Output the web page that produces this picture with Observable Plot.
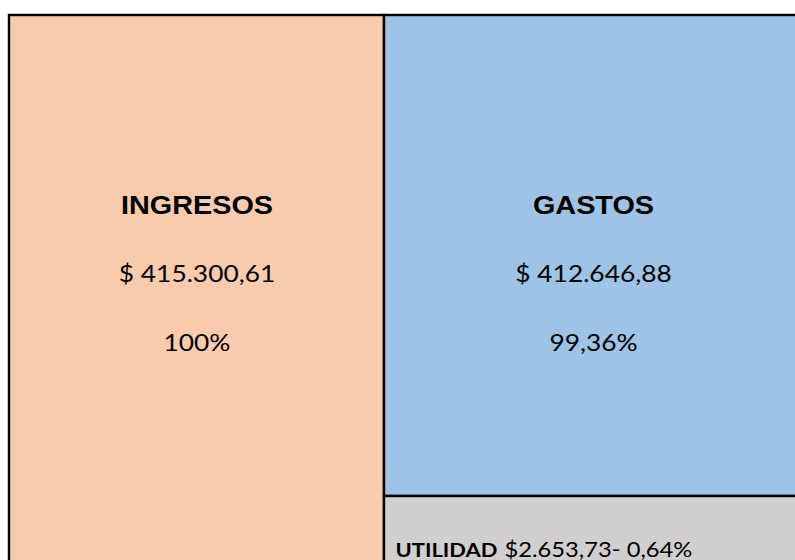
<!DOCTYPE html>
<html>
<head>
<meta charset="utf-8">
<script src="https://cdn.jsdelivr.net/npm/d3@7"></script>
<script src="https://cdn.jsdelivr.net/npm/@observablehq/plot@0.6"></script>
<style>
  html, body { margin: 0; padding: 0; background: #fff; overflow: hidden; }
  #chart svg { display: block; overflow: hidden; }
</style>
</head>
<body>
<div id="chart"></div>
<script>
// ---- data ----
const labels   = ["INGRESOS", "GASTOS", "UTILIDAD"];
const amounts  = ["$ 415.300,61", "$ 412.646,88", "$2.653,73"];
const percentLabels = ["100%", "99,36%", "0,64%"];
const percents = [100, 99.36, 0.64];
const columns  = [0, 1, 1];          // which column each block sits in
const colors   = ["#F8CBAD", "#9DC3E6", "#D0CECE"];

// blocks stacked from the top: gastos then utilidad in the right column
const blocks = labels.map((label, i) => {
  const y1 = i === 2 ? percents[1] : 0;
  return {label, amount: amounts[i], pct: percentLabels[i], col: columns[i],
          y1, y2: y1 + percents[i], fill: colors[i]};
});
const main = blocks.slice(0, 2).map(d => ({...d, ty: percents[1] / 2}));
const util = blocks[2];

const stretch = 1.13;

const chart = Plot.plot({
  width: 795,
  height: 560,
  margin: 0,
  style: {background: "white"},
  x: {type: "linear", domain: [0, 1, 2], range: [9, 384, 802], axis: null},
  y: {type: "linear", domain: [0, percents[1], 100], range: [15, 496, 640], axis: null},
  marks: [
    Plot.rect(blocks, {x1: "col", x2: d => d.col + 1, y1: "y1", y2: "y2",
      fill: "fill", stroke: "black", strokeWidth: 2.4}),
    Plot.text(main, {x: d => d.col + 0.5, y: "ty", text: "label", lineAnchor: "bottom",
      dy: -42.5, fontSize: 25.5, fontWeight: "bold", fontFamily: "Liberation Sans, Arial, sans-serif",
      fill: "black"}),
    Plot.text(main, {x: d => d.col + 0.5, y: "ty", text: "amount", lineAnchor: "bottom",
      dy: 26, fontSize: 23.3, fontFamily: "Lato, sans-serif", fill: "black"}),
    Plot.text(main, {x: d => d.col + 0.5, y: "ty", text: "pct", lineAnchor: "bottom",
      dy: 94.5, fontSize: 23.3, fontFamily: "Lato, sans-serif", fill: "black"}),
    Plot.text([util], {x: "col", y: "y1", text: "label", lineAnchor: "bottom", textAnchor: "start",
      dx: 11, dy: 60.7, fontSize: 19.4, fontWeight: "bold", fontFamily: "Lato, sans-serif", fill: "black"}),
    Plot.text([util], {x: "col", y: "y1", text: d => d.amount + "- " + d.pct, lineAnchor: "bottom",
      textAnchor: "start", dx: 120, dy: 60.7, fontSize: 21, fontFamily: "Lato, sans-serif", fill: "black"})
  ]
});

// horizontally stretch the lettering like the reference
d3.select(chart).selectAll("text").each(function() {
  const t = this.getAttribute("transform");
  if (t) this.setAttribute("transform", t + ` scale(${stretch},1)`);
  else {
    const x = +this.getAttribute("x") || 0;
    this.setAttribute("transform", `translate(${x},0) scale(${stretch},1) translate(${-x},0)`);
  }
});

document.getElementById("chart").appendChild(chart);
</script>
</body>
</html>
